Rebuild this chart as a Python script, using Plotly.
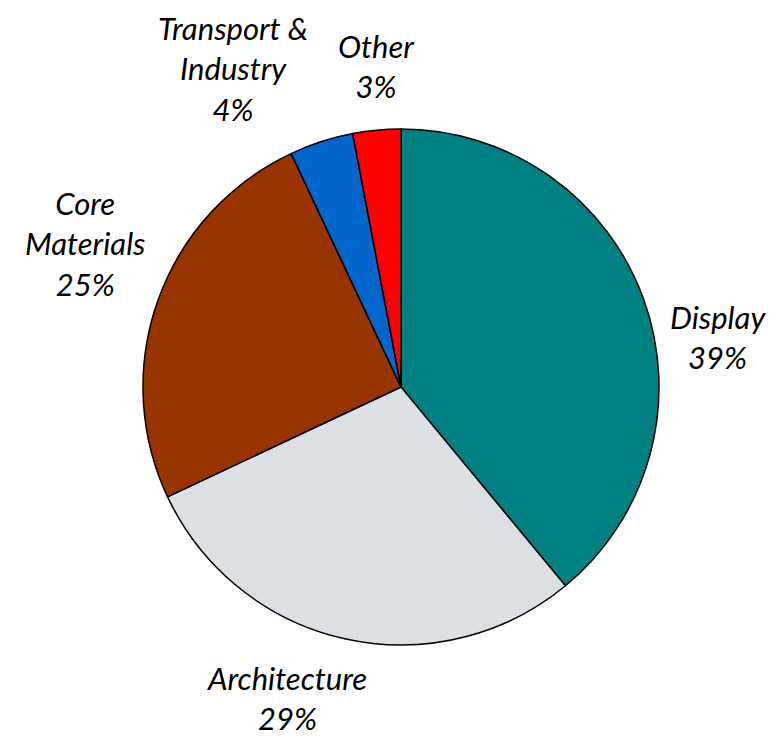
"""
Pie chart: share by application segment, Excel-like styling.
"""

import plotly.graph_objects as go

segmentos = ["Display", "Architecture", "Core Materials", "Transport & Industry", "Other"]
etiquetas = ["Display", "Architecture", "Core<br>Materials", "Transport &<br>Industry", "Other"]
porcentajes = [39, 29, 25, 4, 3]
colores = ["#008080", "#DCDFE3", "#993300", "#0066CC", "#FF0000"]

ANCHO, ALTO = 776, 739
CX, CY, R = 393, 379, 258  # centro y radio del pastel (px, dentro de la figura)

# posición (px) del centro de cada etiqueta, como en el original de Excel
pos_etiquetas = [(710, 329), (279, 690), (77, 235), (225, 60), (368, 58)]

fig = go.Figure(
    go.Pie(
        labels=segmentos,
        values=porcentajes,
        sort=False,
        direction="clockwise",
        rotation=0,
        textinfo="none",
        hoverinfo="label+percent",
        marker=dict(colors=colores, line=dict(color="#000000", width=1.5)),
        domain=dict(x=[(CX - R) / ANCHO, (CX + R) / ANCHO],
                    y=[1 - (CY + R) / ALTO, 1 - (CY - R) / ALTO]),
        showlegend=False,
    )
)

anotaciones = []
for texto, valor, (px_x, px_y) in zip(etiquetas, porcentajes, pos_etiquetas):
    anotaciones.append(dict(
        x=px_x / ANCHO, y=1 - px_y / ALTO, xref="paper", yref="paper",
        text=f"<i>{texto}<br>{valor}%</i>", showarrow=False,
        xanchor="center", yanchor="middle", align="center",
    ))

fig.update_layout(
    width=ANCHO,
    height=ALTO,
    margin=dict(l=0, r=0, t=0, b=0),
    paper_bgcolor="white",
    plot_bgcolor="white",
    font=dict(family="Lato, 'Liberation Sans', sans-serif", size=31, color="#000000"),
    annotations=anotaciones,
)

fig.write_html("out.html")
